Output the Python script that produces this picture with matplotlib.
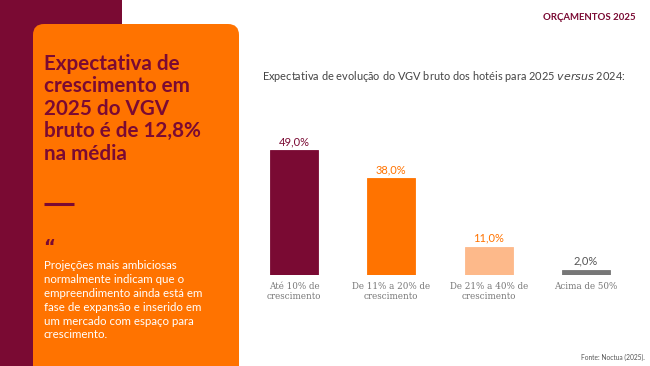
import matplotlib
matplotlib.use("Agg")
import matplotlib.pyplot as plt
from matplotlib.patches import Rectangle, FancyBboxPatch

categories = ["Até 10% de\ncrescimento", "De 11% a 20% de\ncrescimento",
              "De 21% a 40% de\ncrescimento", "Acima de 50%"]
values = [49.0, 38.0, 11.0, 2.0]
value_labels = ["49,0%", "38,0%", "11,0%", "2,0%"]

MAROON = "#7A0A33"
ORANGE = "#FF7300"
PEACH = "#FDB98A"
GRAY = "#777777"
bar_colors = [MAROON, ORANGE, PEACH, GRAY]
label_colors = [MAROON, ORANGE, ORANGE, "#555555"]

W, H = 650, 366
fig = plt.figure(figsize=(6.5, 3.66), dpi=100)
fig.patch.set_facecolor("white")

def fx(x): return x / W
def fy(y): return 1 - y / H

# background shapes
bg = fig.add_axes([0, 0, 1, 1])
bg.set_xlim(0, W); bg.set_ylim(H, 0); bg.axis("off")
bg.add_patch(Rectangle((0, 0), 122, H, color=MAROON, lw=0))
bg.add_patch(FancyBboxPatch((33, 24), 206, 380, boxstyle="round,pad=0,rounding_size=11",
                            color=ORANGE, lw=0))
bg.plot([44, 74], [204, 204], color=MAROON, lw=2.2, solid_capstyle="butt")

fam = ["Lato", "DejaVu Sans"]
bg.text(44, 54, "Expectativa de\ncrescimento em\n2025 do VGV\nbruto é de 12,8%\nna média",
        fontsize=14.9, fontweight="bold", color=MAROON, family=fam, va="top", ha="left",
        linespacing=1.15)
bg.text(43, 238, "\u201c", fontsize=13, fontweight="bold", color=MAROON,
        family=["DejaVu Sans"], va="top", ha="left")
bg.text(44, 260, "Projeções mais ambiciosas\nnormalmente indicam que o\nempreendimento ainda está em\n"
        "fase de expansão e inserido em\num mercado com espaço para\ncrescimento.",
        fontsize=8.3, color="white", family=fam, va="top", ha="left", linespacing=1.32)
bg.text(636, 18, "ORÇAMENTOS 2025", fontsize=6.9, fontweight="bold", color=MAROON,
        family=fam, va="center", ha="right")
bg.text(645, 357, "Fonte: Noctua (2025).", fontsize=4.8, color="#555555",
        family=fam, va="center", ha="right")
bg.text(262, 77, "Expectativa de evolução do VGV bruto dos hotéis para 2025 $\\it{versus}$ 2024:",
        fontsize=7.95, color="#444444", family=fam, va="center", ha="left")

# bar chart
x0 = 294 - 97.33 / 2
ax = fig.add_axes([fx(x0), fy(275), fx(97.33 * 4), (125 / 49 * 55) / H])
pos = list(range(len(values)))
ax.bar(pos, values, width=0.49, color=bar_colors, edgecolor=bar_colors, lw=0.6)
ax.set_xlim(-0.5, 3.5)
ax.set_ylim(0, 55)
for p, v, lab, c in zip(pos, values, value_labels, label_colors):
    ax.text(p, v + 1.2, lab, ha="center", va="bottom", fontsize=8, color=c, family=fam)
ax.set_xticks(pos)
ax.set_xticklabels(categories, fontsize=6.3, color=GRAY, family=["DejaVu Serif"],
                   linespacing=1.2)
ax.tick_params(axis="x", length=0, pad=5)
ax.set_yticks([])
for s in ax.spines.values():
    s.set_visible(False)
ax.patch.set_alpha(0)

fig.savefig("out.png", dpi=100, facecolor="white")
